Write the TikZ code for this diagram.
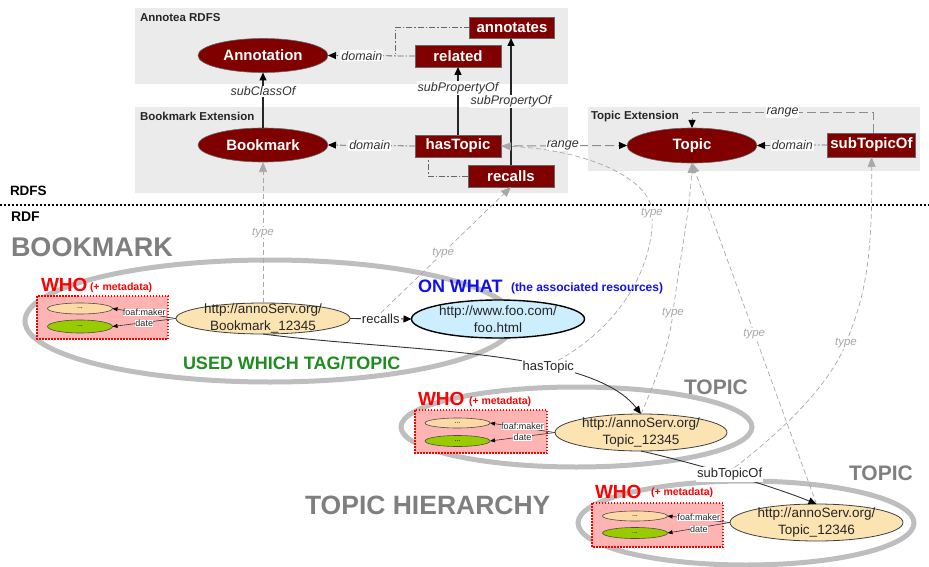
\documentclass[tikz,border=0pt]{standalone}
\usepackage{fontspec}
\setmainfont{Liberation Sans}
\usetikzlibrary{arrows.meta,shapes.geometric,calc}
\newcommand{\fsz}[1]{\fontsize{#1}{#1}\selectfont}
\newcommand{\fszl}[2]{\fontsize{#1}{#2}\selectfont}
\definecolor{dred}{HTML}{800000}
\definecolor{boxgray}{HTML}{EBEBEB}
\definecolor{ringgray}{HTML}{BEBEBE}
\definecolor{biggray}{HTML}{7F7F7F}
\definecolor{peach}{HTML}{FCE3B2}
\definecolor{peachs}{HTML}{FDD9A6}
\definecolor{lgreen}{HTML}{99CC00}
\definecolor{pinkbox}{HTML}{FFB4B4}
\definecolor{lblue}{HTML}{CCEEFF}
\definecolor{whogreen}{HTML}{1E8C1E}
\definecolor{onblue}{HTML}{1010F0}
\definecolor{typegray}{HTML}{A8A8A8}
\begin{document}
\begin{tikzpicture}[x=1pt,y=-1pt,
  every node/.style={inner sep=0pt, outer sep=0pt},
  cls/.style={ellipse, fill=dred, draw=black!60, line width=0.6pt, text=white, font=\bfseries\fsz{15}, minimum width=130, minimum height=34},
  prop/.style={rectangle, fill=dred, draw=black!60, line width=0.6pt, text=white, font=\bfseries\fsz{15}, minimum width=86, minimum height=22},
  boxlab/.style={anchor=west, font=\bfseries\fsz{11.5}, text=black!85},
  elab/.style={fill=white, font=\itshape\fsz{12.5}, inner sep=1pt, text=black!80},
  arr/.style={-{Triangle[length=8pt,width=7pt,color=black]}},
  solidedge/.style={arr, line width=1.3pt, draw=black!85},
  domline/.style={arr, line width=0.8pt, draw=black!60, dash pattern=on 6pt off 2pt on 1.5pt off 2pt},
  rngline/.style={arr, line width=0.9pt, draw=black!45, dash pattern=on 9pt off 4pt},
  typeline/.style={-{Triangle[length=10pt,width=8pt,color=typegray]}, line width=0.7pt, draw=typegray, dash pattern=on 5pt off 3pt},
  typelab/.style={fill=white, font=\itshape\fsz{11.5}, text=typegray, inner sep=1pt},
  ring/.style={draw=ringgray, line width=5pt},
  inst/.style={ellipse, draw=black!75, line width=0.8pt, fill=peach},
  insttext/.style={font=\fszl{13.5}{17}, align=center, text=black!85},
  whobox/.style={draw=red, fill=pinkbox, line width=1.2pt, dash pattern=on 1.5pt off 1.5pt},
  mini/.style={ellipse, draw=black!70, line width=0.6pt, minimum width=65, minimum height=11, font=\fsz{7}},
  minilab/.style={fill=white, font=\fsz{9}, inner sep=0.3pt, text=black!85},
  minarr/.style={-{Triangle[length=5pt,width=4pt,color=black]}, line width=0.6pt, draw=black!80},
  ilink/.style={arr, line width=0.9pt, draw=black!80},
  ilab/.style={fill=white, font=\fsz{13}, inner sep=1pt, text=black!85},
  who/.style={anchor=west, font=\bfseries\fsz{19}, text=red},
  meta/.style={anchor=west, font=\bfseries\fsz{10.5}, text=red},
  big/.style={anchor=west, font=\bfseries\fsz{27}, text=biggray},
  ]
\useasboundingbox (0,0) rectangle (929,567);

% ---------- RDFS background boxes
\fill[boxgray] (135,8) rectangle (568,84);
\fill[boxgray] (135,107) rectangle (568,193);
\fill[boxgray] (588,107) rectangle (920,171);
\node[boxlab] (lAnn) at (140,18) {Annotea RDFS};
\node[boxlab] (lBm) at (140,116.5) {Bookmark Extension};
\node[boxlab] (lTop) at (591,116.5) {Topic Extension};

% ---------- RDFS nodes
\node[cls] (Annotation) at (263,55.5) {Annotation};
\node[prop] (related) at (458,56) {related};
\node[prop, minimum width=85, minimum height=21] (annotates) at (512,27.5) {annotates};
\node[cls] (Bookmark) at (263,145) {Bookmark};
\node[prop] (hasTopic) at (458,146) {hasTopic};
\node[prop] (recalls) at (511,176) {recalls};
\node[cls, minimum height=35] (Topic) at (692,145.5) {Topic};
\node[prop, minimum width=88, minimum height=24] (subTopicOf) at (871.5,145) {subTopicOf};

% ---------- RDFS edges
\draw[domline] (related.west) -- (Annotation.east) node[elab, pos=0.61] (dl1) {domain};
\coordinate (annbend) at (395,27.5);
\draw[domline, -] (annotates.west) -- (annbend) -- (annbend |- Annotation.east);
\draw[solidedge] (Bookmark.north) -- (Annotation.south) node[elab, pos=0.66] (sc) {subClassOf};
\draw[solidedge] (hasTopic.north) -- (related.south) node[elab, pos=0.69] (sp1) {subPropertyOf};
\draw[solidedge] (recalls.north) -- (recalls.north |- annotates.south) node[elab, pos=0.5] (sp2) {subPropertyOf};
\draw[domline] (hasTopic.west) -- (Bookmark.east) node[elab, pos=0.52] (dl2) {domain};
\coordinate (recbend) at (428,176);
\draw[domline, -] (recalls.west) -- (recbend) -- (recbend |- hasTopic.south);
\draw[rngline] (hasTopic.east) -- (Topic.west) node[elab, pos=0.49] (rg1) {range};
\draw[domline] (subTopicOf.west) -- (Topic.east) node[elab, pos=0.5] (dl3) {domain};
\coordinate (rtop1) at (873,112);
\coordinate (rtop2) at (692,112);
\draw[rngline] (subTopicOf.north -| rtop1) -- (rtop1) -- node[elab] (rg2) {range} (rtop2) -- (Topic.north);

% ---------- divider
\coordinate (divL) at (0,205);
\coordinate (divR) at (929,205);
\draw[line width=2pt, dash pattern=on 2pt off 2pt] (divL) -- (divR);
\node[anchor=west, font=\bfseries\fsz{13.5}] (rdfs) at (10,191) {RDFS};
\node[anchor=west, font=\bfseries\fsz{14}] (rdf) at (11,217) {RDF};

% ---------- group rings
\draw[ring] (270,321) ellipse [x radius=245, y radius=61];
\draw[ring] (576.5,427) ellipse [x radius=175.5, y radius=40];
\draw[ring] (746,523) ellipse [x radius=168, y radius=42];

% ---------- big labels
\node[big] (tBM) at (11,247) {BOOKMARK};
\node[big, font=\bfseries\fsz{21}] (tTop1) at (684,387) {TOPIC};
\node[big, font=\bfseries\fsz{21}] (tTop2) at (849,473) {TOPIC};
\node[big, font=\bfseries\fsz{26.5}] (tHier) at (305,505) {TOPIC HIERARCHY};

% ---------- group 1: bookmark
\node[who] (who1) at (41,285) {WHO};
\node[meta] (meta1) at (90,288) {(+ metadata)};
\draw[whobox] (37,296) rectangle (168,339);
\node[mini, fill=peachs] (p1) at (80,308.5) {...};
\node[mini, fill=lgreen, minimum height=13] (g1) at (80,326.5) {...};
\node[inst, minimum width=174, minimum height=31] (bm) at (263,318.5) {};
\node[insttext] (bmtext) at (bm) {http://annoServ.org/\\Bookmark\_12345};
\node[ellipse, draw=black, line width=1.4pt, fill=lblue, minimum width=173, minimum height=38] (foo) at (498,319) {};
\node[insttext] (footext) at (foo) {http://www.foo.com/\\foo.html};
\draw[minarr] (bm.west) -- (p1.east) node[minilab, pos=0.5, yshift=1pt] (fm1) {foaf:maker};
\draw[minarr] (bm.west) -- (g1.east) node[minilab, pos=0.5, yshift=-1pt] (dt1) {date};
\draw[ilink] (bm.east) -- (foo.west) node[ilab, pos=0.5] (reclab) {recalls};
\node[anchor=west, font=\bfseries\fsz{18}, text=onblue] (onwhat) at (418,286) {ON WHAT};
\node[anchor=west, font=\bfseries\fsz{12}, text=onblue] (assoc) at (511,288) {(the associated resources)};
\node[anchor=west, font=\bfseries\fsz{18}, text=whogreen] (used) at (183,363) {USED WHICH TAG/TOPIC};

% ---------- group 2: topic 12345
\node[who] (who2) at (418,399) {WHO};
\node[meta] (meta2) at (469,402) {(+ metadata)};
\draw[whobox] (415,410) rectangle (547,453);
\node[mini, fill=peachs, minimum height=10] (p2) at (457.5,423) {...};
\node[mini, fill=lgreen] (g2) at (457.5,441) {...};
\node[inst, minimum width=172, minimum height=37] (t1) at (641,432.5) {};
\node[insttext] (t1text) at (t1) {http://annoServ.org/\\Topic\_12345};
\draw[minarr] (t1.west) -- (p2.east) node[minilab, pos=0.5, yshift=1pt] (fm2) {foaf:maker};
\draw[minarr] (t1.west) -- (g2.east) node[minilab, pos=0.5, yshift=-1pt] (dt2) {date};

% ---------- group 3: topic 12346
\node[who] (who3) at (595,492) {WHO};
\node[meta] (meta3) at (651,493) {(+ metadata)};
\draw[whobox] (592,503) rectangle (723,547);
\node[mini, fill=peachs, minimum height=10] (p3) at (635,516) {...};
\node[mini, fill=lgreen] (g3) at (635,533) {...};
\node[inst, minimum width=173, minimum height=37] (t2) at (816.5,522.5) {};
\node[insttext] (t2text) at (t2) {http://annoServ.org/\\Topic\_12346};
\draw[minarr] (t2.west) -- (p3.east) node[minilab, pos=0.5, yshift=1.5pt] (fm3) {foaf:maker};
\draw[minarr] (t2.west) -- (g3.east) node[minilab, pos=0.5, yshift=-1.5pt] (dt3) {date};

% ---------- instance links
\draw[ilink] (bm.south) .. controls (400,352) and (590,348) .. (t1.north) node[ilab, pos=0.66] (htlab) {hasTopic};
\draw[ilink] (t1.south) .. controls (690,462) and (770,485) .. (t2.north) node[ilab, pos=0.5] (stlab) {subTopicOf};

% ---------- type links
\draw[typeline] (bm.north) -- (Bookmark.south) node[typelab, pos=0.5] (ty1) {type};
\draw[typeline] (reclab.north) -- (recalls.south) node[typelab, pos=0.48] (ty2) {type};
\coordinate (ty3pt) at (652,213);
\draw[typeline] ($(htlab.north)+(10,0)$) .. controls (630,320) and (655,255) .. (ty3pt) .. controls (652,180) and (590,150) .. (hasTopic.east);
\node[typelab] (ty3) at (ty3pt) {type};
\coordinate (ty4pt) at (673,313);
\draw[typeline] (t1.north) .. controls (658,375) and (669,345) .. (ty4pt) .. controls (678,270) and (690,210) .. (Topic.south);
\node[typelab] (ty4) at (ty4pt) {type};
\draw[typeline] (t2.north) -- (Topic.south) node[typelab, pos=0.5] (ty5) {type};
\coordinate (ty6pt) at (846,343);
\draw[typeline] ($(stlab.north)+(5,0)$) .. controls (790,425) and (832,380) .. (ty6pt) .. controls (862,302) and (873,270) .. (subTopicOf.south);
\node[typelab] (ty6) at (ty6pt) {type};
\end{tikzpicture}
\end{document}
